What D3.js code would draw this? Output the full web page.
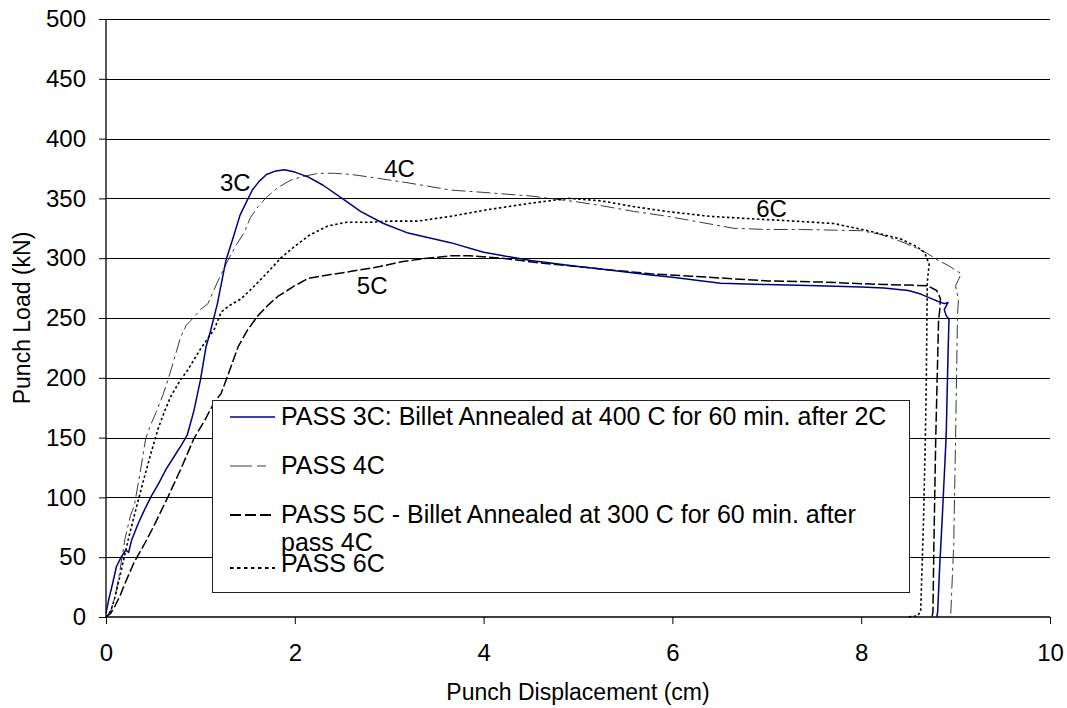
<!DOCTYPE html>
<html>
<head>
<meta charset="utf-8">
<script src="https://cdn.jsdelivr.net/npm/d3@7"></script>
<style>
  html, body { margin: 0; padding: 0; background: #fff; }
  svg { display: block; font-family: "Liberation Sans", Arial, sans-serif; }
</style>
</head>
<body>
<svg id="chart" width="1067" height="708"></svg>
<script>
// ---------- data ----------
const xTicks = [0, 2, 4, 6, 8, 10];
const yTicks = [0, 50, 100, 150, 200, 250, 300, 350, 400, 450, 500];
const xTitle = "Punch Displacement (cm)";
const yTitle = "Punch Load (kN)";

// PASS 3C: [displacement cm, load kN]
const pass3C = [[0,3],[0.03,15],[0.07,28],[0.11,42],[0.16,50],[0.21,56],[0.24,54],[0.27,64],[0.34,78],[0.41,90],[0.48,101],[0.56,112],[0.64,124],[0.72,134],[0.8,144],[0.86,152],[0.93,172],[1.0,198],[1.06,226],[1.11,240],[1.18,262],[1.27,298],[1.35,318],[1.42,336],[1.5,349],[1.55,357],[1.62,364],[1.7,370],[1.8,373],[1.89,374],[2.0,372],[2.14,368],[2.3,361],[2.52,349],[2.7,339],[2.94,329],[3.2,321],[3.65,313],[4.0,305],[4.5,298],[5.0,293],[5.24,291],[5.77,286],[6.0,284],[6.51,279],[7.0,278],[7.54,277],[8.0,276],[8.24,275],[8.5,273],[8.63,270],[8.75,266],[8.81,264],[8.88,262],[8.92,263],[8.88,257],[8.9,252],[8.93,249],[8.92,220],[8.9,151],[8.86,85],[8.83,40],[8.81,4],[8.8,0]];
// PASS 4C
const pass4C = [[0,0],[0.05,5],[0.1,18],[0.15,40],[0.2,65],[0.26,85],[0.3,93],[0.36,120],[0.42,149],[0.47,160],[0.53,171],[0.6,185],[0.66,199],[0.72,215],[0.79,234],[0.85,244],[0.9,248],[1.0,257],[1.08,262],[1.18,280],[1.29,298],[1.38,311],[1.46,321],[1.53,334],[1.61,343],[1.7,351],[1.82,359],[1.95,365],[2.07,368],[2.25,371],[2.42,371],[2.6,370],[2.78,368],[3.2,363],[3.65,357],[4.0,355],[4.5,352],[5.0,347],[5.24,344],[5.6,339],[5.95,335],[6.3,330],[6.65,325],[7.0,324],[7.36,324],[8.0,323],[8.2,320],[8.42,314],[8.6,308],[8.7,304],[8.82,298],[8.92,294],[9.06,287],[9.0,277],[9.03,265],[9.02,252],[9.0,150],[8.98,60],[8.95,5],[8.95,0]];
// PASS 5C
const pass5C = [[0,0],[0.05,3],[0.1,10],[0.15,18],[0.2,28],[0.3,46],[0.4,60],[0.5,75],[0.66,101],[0.8,125],[0.93,149],[1.05,165],[1.15,180],[1.22,187],[1.3,204],[1.4,226],[1.5,240],[1.61,252],[1.72,261],[1.82,268],[2.0,277],[2.14,283],[2.35,286],[2.6,289],[2.9,293],[3.13,297],[3.4,300],[3.65,302],[3.85,302],[4.2,300],[4.6,296],[5.0,293],[5.24,291],[5.77,287],[6.2,285],[7.01,281],[7.6,280],[8.24,278],[8.5,277.5],[8.7,277],[8.8,273],[8.84,266],[8.83,255],[8.82,249],[8.79,151],[8.77,60],[8.76,4],[8.75,0]];
// PASS 6C
const pass6C = [[0,0],[0.05,5],[0.09,15],[0.15,35],[0.23,63],[0.3,85],[0.4,115],[0.48,138],[0.55,157],[0.62,172],[0.69,185],[0.78,197],[0.87,207],[1.0,224],[1.08,233],[1.15,241],[1.22,255],[1.3,260],[1.43,266],[1.55,275],[1.71,288],[1.85,300],[2.0,310],[2.15,319],[2.35,327],[2.55,330],[2.78,330],[3.0,331],[3.3,331],[3.65,335],[4.0,340],[4.5,346],[4.9,350],[5.24,348],[5.6,343],[5.95,339],[6.4,335],[6.83,333],[7.3,331],[7.71,329],[8.07,323],[8.42,316],[8.58,310],[8.67,305],[8.72,295],[8.7,280],[8.69,200],[8.68,151],[8.66,80],[8.63,5],[8.6,1],[8.49,0]];

const seriesNames = ["3C", "4C", "5C", "6C"];
const legendLines = [
  ["PASS 3C: Billet Annealed at 400 C for 60 min. after 2C"],
  ["PASS 4C"],
  ["PASS 5C - Billet Annealed at 300 C for 60 min. after", "pass 4C"],
  ["PASS 6C"]
];
// curve labels: [name, x, y] in data units (text baseline)
const curveLabels = [["3C", 1.37, 356], ["4C", 3.11, 368], ["5C", 2.82, 270], ["6C", 7.05, 334.5]];

// ---------- styles ----------
const styles = [
  {stroke: "#000080", width: 1.5, dash: null, lstroke: "#000080", ldash: null, lwidth: 1.5},
  {stroke: "#3a3a3a", width: 1, dash: "14,4,3,4", lstroke: "#808080", ldash: "22,5,9,9", lwidth: 1.5},
  {stroke: "#000", width: 1.5, dash: "10,3", lstroke: "#000", ldash: "11,4", lwidth: 2},
  {stroke: "#000", width: 1.6, dash: "2.5,2.5", lstroke: "#000", ldash: "3.5,3.5", lwidth: 2}
];

const svg = d3.select("#chart");
const x = d3.scaleLinear().domain([0, 10]).range([106, 1050]);
const y = d3.scaleLinear().domain([0, 500]).range([617, 19]);

// gridlines
svg.append("g").selectAll("line").data(yTicks.filter(d => d > 0)).join("line")
  .attr("x1", x(0)).attr("x2", x(10))
  .attr("y1", d => Math.round(y(d)) + 0.5).attr("y2", d => Math.round(y(d)) + 0.5)
  .attr("stroke", "#000").attr("stroke-width", 1);

// axes
const fs = 24;
const gy = svg.append("g").attr("transform", `translate(${x(0)},0)`)
  .call(d3.axisLeft(y).tickValues(yTicks).tickSize(7).tickPadding(13).tickFormat(d3.format("d")));
const gx = svg.append("g").attr("transform", `translate(0,${y(0)})`)
  .call(d3.axisBottom(x).tickValues(xTicks).tickSize(7).tickPadding(20).tickFormat(d3.format("d")));
[gx, gy].forEach(g => {
  g.select(".domain").attr("stroke", "#000").attr("stroke-width", 1.3);
  g.selectAll(".tick line").attr("stroke", "#000");
  g.selectAll(".tick text").attr("font-size", fs).attr("fill", "#000")
    .attr("font-family", "Liberation Sans, Arial, sans-serif");
});
gx.select(".domain").attr("d", `M${x(0)},0H${x(10)}`);
gy.select(".domain").attr("d", `M0,${y(0)}V${y(500)}`);

// axis titles
svg.append("text").attr("x", (x(0) + x(10)) / 2).attr("y", 700)
  .attr("text-anchor", "middle").attr("font-size", 23).text(xTitle);
svg.append("text").attr("transform", `translate(30,${(y(0) + y(500)) / 2}) rotate(-90)`)
  .attr("text-anchor", "middle").attr("font-size", 23).text(yTitle);

// series
const allSeries = [pass3C, pass4C, pass5C, pass6C];
const line = d3.line().x(d => x(d[0])).y(d => y(d[1]));
const drawOrder = [1, 3, 2, 0];
drawOrder.forEach(i => {
  svg.append("path").datum(allSeries[i])
    .attr("d", line).attr("fill", "none")
    .attr("stroke", styles[i].stroke).attr("stroke-width", styles[i].width)
    .attr("stroke-dasharray", styles[i].dash)
    .attr("stroke-linejoin", "round");
});

// curve labels
svg.append("g").selectAll("text").data(curveLabels).join("text")
  .attr("x", d => x(d[1])).attr("y", d => y(d[2]))
  .attr("text-anchor", "middle").attr("font-size", 24).text(d => d[0]);

// legend
const lg = svg.append("g");
lg.append("rect").attr("x", 212.5).attr("y", 400.5).attr("width", 697).attr("height", 192)
  .attr("fill", "#fff").attr("stroke", "#222").attr("stroke-width", 1);
const rowSwatchY = [417, 466, 515, 568];
const rowBase = [[425], [474], [523, 551], [572]];
legendLines.forEach((lines, i) => {
  lg.append("line").attr("x1", 230).attr("x2", 275)
    .attr("y1", rowSwatchY[i]).attr("y2", rowSwatchY[i])
    .attr("stroke", styles[i].lstroke).attr("stroke-width", styles[i].lwidth)
    .attr("stroke-dasharray", styles[i].ldash);
  lines.forEach((t, j) => {
    lg.append("text").attr("x", 281).attr("y", rowBase[i][j])
      .attr("font-size", 25).text(t);
  });
});
</script>
</body>
</html>
